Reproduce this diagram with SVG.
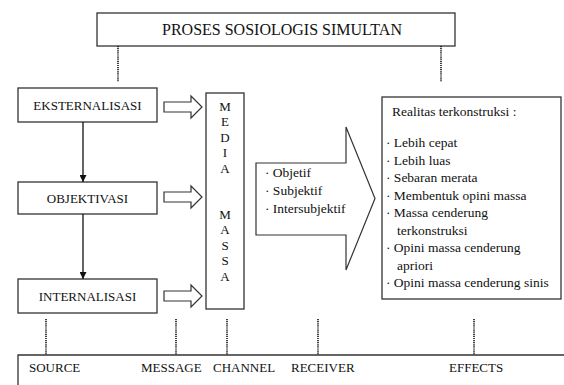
<svg xmlns="http://www.w3.org/2000/svg" width="564" height="385" viewBox="0 0 564 385">
<defs>
<style>
.box{fill:#fff;stroke:#333;stroke-width:1.3}
.dot{stroke:#111;stroke-width:1.6;stroke-dasharray:1.2 0.9;fill:none}
.hol{fill:#fff;stroke:#333;stroke-width:1.2;stroke-linejoin:miter}
.conn{stroke:#111;stroke-width:1.3;fill:none}
</style>
<marker id="ah" viewBox="0 0 10 10" refX="10" refY="5" markerWidth="7" markerHeight="7" markerUnits="userSpaceOnUse" orient="auto">
<path d="M0,0 L10,5 L0,10 z" fill="#111"/>
</marker>
</defs>
<rect width="564" height="385" fill="#fff"/>

<g id="title">
<rect class="box" x="97" y="13" width="358" height="33"/>
<text x="282" y="35" font-family="Liberation Serif" font-size="16" fill="#111" text-anchor="middle">PROSES SOSIOLOGIS SIMULTAN</text>
</g>

<g id="eksternalisasi" font-family="Liberation Serif" font-size="13" fill="#111" text-anchor="middle">
<rect class="box" x="18" y="88" width="139" height="34"/>
<text x="87.5" y="110">EKSTERNALISASI</text>
</g>
<g id="objektivasi" font-family="Liberation Serif" font-size="13" fill="#111" text-anchor="middle">
<rect class="box" x="18" y="182" width="139" height="32"/>
<text x="87.5" y="202.5">OBJEKTIVASI</text>
</g>
<g id="internalisasi" font-family="Liberation Serif" font-size="13" fill="#111" text-anchor="middle">
<rect class="box" x="18" y="279" width="139" height="34"/>
<text x="87.5" y="300.5">INTERNALISASI</text>
</g>

<g id="media-massa" font-family="Liberation Serif" font-size="13" fill="#111" text-anchor="middle">
<rect class="box" x="206" y="93" width="38" height="216"/>
<text x="225" y="110.5">M</text>
<text x="225" y="126">E</text>
<text x="225" y="141.5">D</text>
<text x="225" y="157">I</text>
<text x="225" y="172.5">A</text>
<text x="225" y="218.5">M</text>
<text x="225" y="234">A</text>
<text x="225" y="249.5">S</text>
<text x="225" y="265">S</text>
<text x="225" y="280.5">A</text>
</g>

<g id="pesan" font-family="Liberation Serif" font-size="13.5" fill="#111">
<path class="hol" d="M256,163 L346,163 L346,127 L375,198.5 L346,270 L346,235 L256,235 Z"/>
<text x="265" y="177">· Objetif</text>
<text x="265" y="195">· Subjektif</text>
<text x="265" y="213">· Intersubjektif</text>
</g>

<g id="realitas" font-family="Liberation Serif" font-size="13.5" fill="#111">
<rect class="box" x="382" y="97" width="179" height="202"/>
<text x="392" y="116">Realitas terkonstruksi :</text>
<text x="386" y="147">· Lebih cepat</text>
<text x="386" y="164.5">· Lebih luas</text>
<text x="386" y="182">· Sebaran merata</text>
<text x="386" y="199.5">· Membentuk opini massa</text>
<text x="386" y="217">· Massa cenderung</text>
<text x="397" y="234.5">terkonstruksi</text>
<text x="386" y="252">· Opini massa cenderung</text>
<text x="397" y="269.5">apriori</text>
<text x="386" y="287">· Opini massa cenderung sinis</text>
</g>

<g id="komunikasi" font-family="Liberation Serif" font-size="13" fill="#111">
<path class="box" d="M18,386 L18,355 L566,355"/>
<text x="29" y="372">SOURCE</text>
<text x="141" y="372">MESSAGE</text>
<text x="213" y="372">CHANNEL</text>
<text x="291" y="372">RECEIVER</text>
<text x="449" y="372">EFFECTS</text>
</g>

<g id="connectors">
<line class="conn" x1="83" y1="122" x2="83" y2="182" marker-end="url(#ah)"/>
<line class="conn" x1="83" y1="214" x2="83" y2="279" marker-end="url(#ah)"/>
<path class="hol" d="M164,102 L191,102 L191,96 L202,107 L191,118 L191,112 L164,112 Z"/>
<path class="hol" d="M164,192 L191,192 L191,186 L202,197 L191,208 L191,202 L164,202 Z"/>
<path class="hol" d="M164,291 L191,291 L191,285 L202,296 L191,307 L191,301 L164,301 Z"/>
<line class="dot" x1="118" y1="46" x2="118" y2="82"/>
<line class="dot" x1="441" y1="46" x2="441" y2="82"/>
<line class="dot" x1="46" y1="319" x2="46" y2="355"/>
<line class="dot" x1="176" y1="319" x2="176" y2="355"/>
<line class="dot" x1="227" y1="319" x2="227" y2="355"/>
<line class="dot" x1="318" y1="319" x2="318" y2="355"/>
<line class="dot" x1="474" y1="319" x2="474" y2="355"/>
</g>
</svg>
